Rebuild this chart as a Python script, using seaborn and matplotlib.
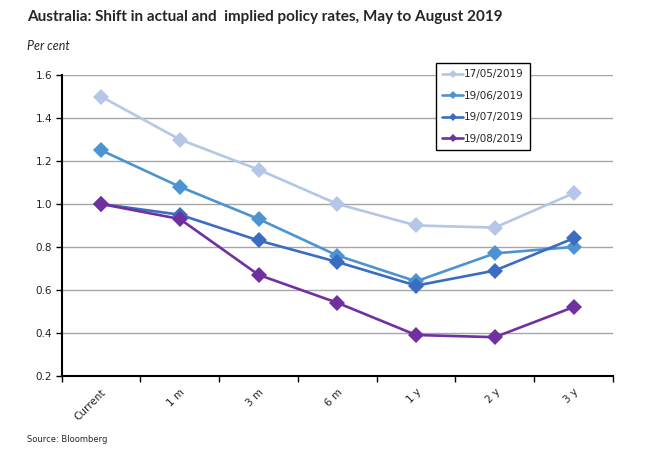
import matplotlib
matplotlib.use("Agg")
import matplotlib.pyplot as plt
import seaborn as sns
import pandas as pd
from matplotlib.lines import Line2D

categories = ["Current", "1 m", "3 m", "6 m", "1 y", "2 y", "3 y"]
series_names = ["17/05/2019", "19/06/2019", "19/07/2019", "19/08/2019"]
may_17 = [1.50, 1.30, 1.16, 1.00, 0.90, 0.89, 1.05]
jun_19 = [1.25, 1.08, 0.93, 0.76, 0.64, 0.77, 0.80]
jul_19 = [1.00, 0.95, 0.83, 0.73, 0.62, 0.69, 0.84]
aug_19 = [1.00, 0.93, 0.67, 0.54, 0.39, 0.38, 0.52]
colors = ["#B4C7E7", "#4C93D2", "#3C6CC2", "#7030A0"]
y_ticks = [0.2, 0.4, 0.6, 0.8, 1.0, 1.2, 1.4, 1.6]

rows = []
for name, vals in zip(series_names, [may_17, jun_19, jul_19, aug_19]):
    for c, v in zip(categories, vals):
        rows.append({"tenor": c, "rate": v, "date": name})
df = pd.DataFrame(rows)

sns.set_theme(style="white")
plt.rcParams["font.family"] = ["DejaVu Sans"]

fig = plt.figure(figsize=(6.5, 4.55), dpi=100)
ax = fig.add_axes([0.095, 0.174, 0.848, 0.661])

sns.lineplot(data=df, x="tenor", y="rate", hue="date", hue_order=series_names,
             palette=colors, style="date", markers={n: "D" for n in series_names},
             dashes=False, markersize=8, linewidth=1.9, markeredgewidth=0,
             legend=False, ax=ax, sort=False, zorder=3)

ax.set_xlim(-0.5, len(categories) - 0.5)
ax.set_ylim(0.2, 1.6)
ax.set_yticks(y_ticks)
ax.set_yticklabels([f"{t:.1f}" for t in y_ticks], fontsize=7.5, color="#222222")
ax.set_xticks(range(len(categories)))
ax.set_xticklabels(categories, rotation=45, ha="right", rotation_mode="anchor",
                   fontsize=7.5, color="#222222")
ax.set_xticks([i - 0.5 for i in range(len(categories) + 1)], minor=True)
ax.tick_params(axis="x", which="major", length=0, pad=8)
ax.tick_params(axis="x", which="minor", length=4, width=1, color="black", direction="out", bottom=True)
ax.tick_params(axis="y", length=4, width=1, color="black", direction="out", left=True, pad=3)
ax.set_xlabel("")
ax.set_ylabel("")
ax.grid(axis="y", color="#A6A6A6", linewidth=1)
ax.grid(axis="x", visible=False)
ax.set_axisbelow(True)
for s in ["top", "right"]:
    ax.spines[s].set_visible(False)
for s in ["left", "bottom"]:
    ax.spines[s].set_color("black")
    ax.spines[s].set_linewidth(1.5)

handles = [Line2D([0], [0], color=c, lw=1.9, marker="D", markersize=4.5, markeredgewidth=0)
           for c in colors]
leg = ax.legend(handles, series_names, loc="upper left", bbox_to_anchor=(0.679, 1.04),
                fontsize=7.5, frameon=True, fancybox=False, handlelength=2.0,
                handletextpad=0.1, borderpad=0.6, labelspacing=1.1, borderaxespad=0)
leg.get_frame().set_edgecolor("black")
leg.get_frame().set_linewidth(1)
leg.get_frame().set_facecolor("white")
leg.get_frame().set_alpha(1)
leg.set_zorder(5)

fig.text(27 / 650, 1 - 17 / 455, "Australia: Shift in actual and  implied policy rates, May to August 2019",
         fontsize=11, fontweight="bold", family=["Lato", "DejaVu Sans"], va="center", ha="left")
fig.text(27 / 650, 1 - 46 / 455, "Per cent", fontsize=9, style="italic",
         family=["Lato", "DejaVu Sans"], va="center", ha="left")
fig.text(27 / 650, 1 - 440 / 455, "Source: Bloomberg", fontsize=6,
         family=["DejaVu Sans"], va="center", ha="left")

fig.savefig("out.png", dpi=100, facecolor="white")
